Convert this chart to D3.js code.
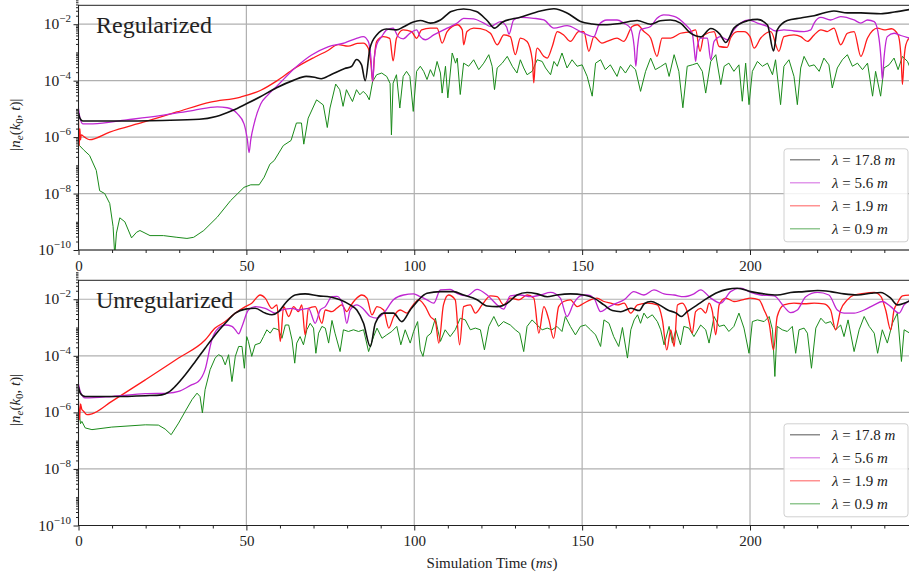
<!DOCTYPE html>
<html>
<head>
<meta charset="utf-8">
<script src="https://cdn.jsdelivr.net/npm/d3@7"></script>
<style>
  body { margin: 0; background: #fff; }
  svg { display: block; }
  text { font-family: "Liberation Serif", "DejaVu Serif", serif; fill: #222; }
  .grid line { stroke: #b0b0b0; stroke-width: 1.2; }
  .axis path, .axis line { stroke: #222; }
</style>
</head>
<body>
<svg id="chart" width="909" height="574"></svg>
<script>
// values are [time in ms, log10 |n_e|]
const xTicks = [0, 50, 100, 150, 200];
const yTickExps = [-10, -8, -6, -4, -2];
const legendLabels = ["17.8", "5.6", "1.9", "0.9"];
const seriesColors = ["#111111", "#c027d2", "#ff1a1a", "#1a8a1a"];

const regBlack = [[0,-5.15],[0.5,-5.35],[1.3,-5.43],[10,-5.43],[25,-5.41],[36,-5.37],[41,-5.27],[46,-5.05],[50,-4.82],[54,-4.58],[59,-4.25],[64,-3.99],[67.8,-3.85],[70.3,-3.88],[72.3,-3.93],[75.3,-3.78],[79.3,-3.57],[81.3,-3.5],[82.8,-3.25],[84.3,-3.44],[85.4,-4.0],[86.8,-2.85],[88.8,-2.38],[91.7,-2.17],[94.7,-2.2],[96.7,-2.1],[99.5,-1.93],[101.8,-1.87],[104.8,-1.96],[107.8,-1.85],[111,-1.55],[114.7,-1.46],[118.5,-1.55],[121.7,-1.87],[123.9,-2.14],[126.2,-1.93],[131.6,-1.75],[137.6,-1.53],[141.6,-1.45],[145.5,-1.6],[149.5,-1.9],[153,-1.99],[156.5,-2.02],[161.4,-1.97],[166.4,-1.87],[170.4,-2.0],[173.3,-1.88],[176.3,-1.85],[179.3,-1.96],[182.1,-2.3],[185.3,-2.45],[188.3,-2.15],[191,-2.35],[192.8,-2.65],[195.2,-2.14],[199.2,-1.88],[202.2,-1.83],[205.2,-2.03],[207,-2.95],[208.1,-2.2],[211.1,-1.87],[215.1,-1.78],[219.1,-1.7],[225,-1.53],[229,-1.6],[233,-1.6],[239,-1.63],[243,-1.57],[247.5,-1.48]];

const regMagenta = [[0,-5.0],[0.4,-5.3],[1.3,-5.53],[4.3,-5.53],[14.3,-5.39],[24.3,-5.24],[34.3,-5.05],[41.3,-4.93],[44.3,-4.96],[47.3,-5.17],[49.3,-5.53],[50.3,-6.1],[50.8,-6.55],[51.3,-6.1],[52.3,-5.53],[54.3,-4.82],[56.3,-4.52],[59.3,-4.17],[64.3,-3.57],[69.3,-3.1],[74.3,-2.8],[79.3,-2.66],[82.8,-2.5],[84.8,-2.44],[86.3,-2.61],[87.1,-3.2],[87.6,-4.03],[88.1,-3.2],[88.8,-2.73],[90.3,-2.44],[91.8,-2.2],[93.7,-2.14],[95.2,-2.44],[96.7,-2.52],[98.7,-2.32],[100.7,-2.2],[101.8,-2.44],[103.3,-2.55],[105.8,-2.38],[109.8,-2.14],[112.8,-1.96],[114.7,-1.79],[117.7,-1.81],[120.7,-1.96],[122.7,-2.08],[125.7,-1.91],[127.5,-2.1],[128.2,-2.35],[129.6,-1.85],[131.6,-1.76],[135.6,-1.79],[138.6,-1.85],[141.6,-2.14],[145.5,-2.05],[149.5,-2.26],[153.5,-2.44],[155,-2.02],[157.4,-1.85],[160.4,-1.85],[162.4,-1.96],[164.4,-2.14],[165.5,-2.8],[166,-3.49],[166.5,-2.8],[167.4,-2.2],[170.4,-2.08],[172.3,-1.79],[174.3,-1.67],[177.4,-1.72],[180.8,-2.02],[182.8,-2.32],[183.4,-2.9],[183.8,-3.32],[184.3,-2.8],[185.3,-2.49],[187.3,-2.49],[188.3,-3.26],[189.3,-2.61],[191.3,-2.44],[193.2,-2.55],[195.2,-2.2],[197.2,-1.96],[199.7,-1.85],[202.2,-1.96],[205.2,-2.08],[207.6,-2.24],[210.1,-2.2],[213.1,-2.24],[216.1,-2.26],[218.1,-2.2],[219.1,-1.96],[221.1,-1.76],[224,-1.85],[227,-1.73],[231,-1.85],[233,-1.96],[235,-1.85],[237,-1.91],[238.4,-2.49],[239,-3.2],[239.4,-3.96],[239.9,-3.2],[240.9,-2.44],[242.9,-2.32],[244.9,-2.4],[247.4,-2.49]];

const regRed = [[0,-5.4],[0.2,-6.3],[0.4,-5.7],[0.6,-6.1],[0.8,-5.92],[1.8,-6.0],[3.3,-6.09],[9.3,-5.82],[19.3,-5.47],[29.3,-5.11],[39.3,-4.76],[48.3,-4.58],[54.3,-4.34],[59.3,-3.99],[64.3,-3.57],[70.3,-3.17],[74.3,-2.93],[77.3,-2.72],[80.3,-2.78],[83,-2.68],[84.8,-2.67],[86.3,-2.85],[87.1,-3.4],[87.6,-4.03],[88.1,-3.2],[88.8,-2.61],[90.8,-2.44],[92.7,-2.5],[93.7,-3.3],[94.7,-2.5],[96.7,-2.2],[99.2,-2.26],[100.7,-2.5],[102.2,-2.2],[104.8,-2.14],[106.8,-2.14],[108.3,-2.67],[109.8,-2.26],[112.8,-2.02],[114.3,-2.2],[114.7,-2.73],[115.7,-2.26],[117.7,-2.14],[119.7,-2.16],[122.7,-2.32],[124.7,-2.73],[126.7,-2.38],[128.6,-2.44],[130.1,-3.08],[131.6,-2.49],[133.6,-2.61],[135.2,-3.3],[135.6,-4.08],[136.1,-3.2],[136.6,-2.85],[138.6,-3.14],[139.6,-3.2],[141.1,-2.79],[142.6,-2.26],[144.5,-2.38],[146.5,-2.61],[149,-2.26],[150.5,-2.26],[152,-2.96],[153.5,-2.44],[155.9,-2.67],[157.4,-2.61],[160.4,-2.49],[162.4,-2.61],[164.9,-2.08],[166.4,-2.02],[168.4,-2.26],[170.4,-2.49],[172.3,-3.14],[173.8,-2.49],[176.4,-2.49],[179.3,-2.32],[182.3,-2.26],[183.8,-2.2],[185.1,-2.96],[186.3,-2.38],[189.3,-2.26],[190.8,-2.79],[193.2,-2.82],[194.2,-2.49],[196.2,-2.26],[198.2,-2.26],[200,-2.44],[201.2,-2.85],[203.2,-2.49],[206.2,-2.26],[208.6,-2.96],[210.1,-2.44],[213.1,-2.38],[215.1,-2.44],[217.1,-2.61],[219.1,-2.38],[221.1,-2.2],[223,-2.26],[225,-2.14],[227,-2.73],[229,-2.32],[231,-2.26],[233,-3.14],[235,-2.49],[238,-2.14],[240,-2.2],[242.1,-2.16],[244.1,-2.38],[245,-3.2],[245.4,-4.14],[245.9,-3.2],[246.4,-2.73],[247.4,-2.49]];

const regGreen = [[0,-6.2],[0.3,-6.3],[1.5,-6.45],[3.3,-6.65],[5.3,-7.18],[6.3,-7.9],[7.8,-8.0],[9.3,-8.35],[10.3,-9.17],[10.8,-10.2],[11.3,-9.4],[12.3,-8.86],[13.8,-9.0],[15.8,-9.57],[17.3,-9.37],[18.3,-9.31],[21.3,-9.49],[25.3,-9.49],[29.3,-9.55],[32.3,-9.59],[34.3,-9.55],[37.3,-9.31],[41.3,-8.84],[45.3,-8.25],[49.3,-7.78],[51.3,-7.69],[53.8,-7.69],[55.3,-7.42],[57,-6.96],[58.3,-6.83],[61,-6.3],[63.3,-6.12],[64.9,-5.5],[66.4,-5.5],[67.1,-6.25],[68.4,-5.33],[70.9,-4.68],[72.9,-4.86],[74.1,-5.66],[74.9,-4.97],[76.6,-4.12],[77.8,-4.32],[78.8,-4.91],[79.8,-4.32],[80.8,-4.56],[81.6,-4.74],[82.8,-4.32],[83.8,-4.5],[84.8,-4.38],[85.8,-4.5],[86.6,-4.68],[87.6,-4.03],[88.8,-3.79],[90.3,-3.73],[91.8,-3.85],[92.8,-4.1],[93.2,-5.92],[93.7,-4.09],[94.7,-3.79],[95.7,-4.97],[96.7,-3.85],[97.7,-3.67],[98.7,-3.85],[99.7,-5.09],[100.7,-3.67],[101.8,-3.49],[102.8,-3.67],[103.8,-3.96],[104.8,-3.61],[105.8,-3.85],[106.8,-3.32],[107.8,-3.73],[108.3,-4.44],[109.3,-3.49],[110,-4.61],[111.3,-3.02],[112.3,-3.38],[112.8,-3.2],[113.7,-4.49],[114.7,-3.38],[116.2,-3.49],[117.7,-3.26],[119.2,-3.61],[120.7,-3.38],[122.2,-3.08],[123.2,-3.49],[123.9,-4.32],[124.7,-3.55],[126.2,-3.38],[127.7,-3.14],[129.2,-3.49],[130.6,-3.73],[131.6,-3.26],[132.6,-3.55],[133.6,-3.79],[135.1,-3.67],[136.6,-3.26],[138.1,-3.32],[139.1,-3.55],[140.6,-3.79],[141.6,-3.32],[142.6,-3.49],[144,-3.02],[145.5,-3.55],[147,-3.26],[148.5,-3.49],[150,-3.44],[151.5,-3.85],[153,-4.55],[154,-3.38],[155.5,-3.26],[156.9,-3.61],[158.4,-3.44],[160.4,-3.85],[161.4,-3.49],[162.9,-3.73],[164.4,-3.44],[165.9,-3.61],[167.4,-4.38],[168.9,-3.67],[170.4,-3.2],[171.8,-3.61],[173.4,-3.5],[174.9,-3.38],[175.9,-3.85],[177.4,-3.08],[178.8,-3.67],[180,-4.96],[181.3,-3.49],[182.8,-3.44],[184.3,-3.38],[185.8,-3.67],[186.8,-4.44],[188.3,-3.32],[189.8,-3.08],[191.3,-4.14],[192.3,-3.49],[193.7,-3.38],[195.2,-3.67],[196.7,-3.44],[197.7,-4.73],[198.7,-3.38],[199.7,-4.85],[200.7,-3.67],[202.2,-3.32],[203.7,-3.49],[205.2,-3.38],[206.7,-3.79],[207.6,-3.26],[209.1,-4.85],[210.1,-3.49],[211.6,-3.26],[213.1,-3.85],[214.1,-4.85],[215.1,-3.55],[216.1,-3.14],[217.6,-3.49],[219.1,-3.44],[220.6,-3.67],[222,-3.2],[223.5,-3.44],[224.5,-4.26],[226,-3.55],[227.5,-3.26],[229,-3.08],[230.5,-3.49],[232,-3.38],[233.5,-3.61],[235,-3.38],[236.5,-4.55],[237.4,-3.67],[238.9,-4.55],[239.9,-3.55],[241.4,-3.44],[242.9,-3.2],[244.1,-3.61],[245.4,-3.14],[246.9,-3.32],[247.5,-3.49]];

const unregBlack = [[0,-5.1],[0.5,-5.32],[2,-5.44],[10,-5.44],[20,-5.41],[24.8,-5.38],[26.8,-5.29],[28.8,-5.08],[31.8,-4.67],[34.8,-4.2],[37.7,-3.73],[40.7,-3.26],[43.7,-2.85],[46.7,-2.49],[49.7,-2.35],[52.6,-2.32],[55.6,-2.49],[57.6,-2.55],[59.6,-2.44],[61.6,-2.14],[64.5,-1.85],[67.5,-1.81],[71.5,-1.88],[75,-1.92],[77.9,-2.02],[80.9,-2.2],[82.9,-2.38],[84.9,-2.85],[86.9,-3.67],[88.4,-2.85],[90.9,-2.49],[93.8,-2.49],[96.3,-2.79],[98.8,-2.38],[101.3,-2.02],[103.8,-1.79],[107.8,-1.73],[111.7,-1.73],[114.7,-1.85],[118.7,-2.02],[121.7,-2.24],[124.7,-2.26],[127.7,-2.14],[130.6,-1.85],[133.6,-1.76],[136.6,-1.81],[139.6,-1.91],[142.5,-1.85],[146.5,-1.81],[150.5,-1.85],[153.5,-1.96],[156.5,-2.2],[159,-2.4],[161.5,-2.44],[164.5,-2.32],[167,-2.4],[168.5,-2.16],[170.5,-2.08],[173,-2.2],[175.5,-2.38],[178,-2.49],[179.5,-2.61],[181.3,-2.44],[184.3,-2.2],[187.3,-1.96],[190.3,-1.76],[193.2,-1.65],[196.2,-1.61],[200.2,-1.73],[204.2,-1.81],[208.1,-1.85],[212.1,-1.76],[216.1,-1.73],[220.1,-1.69],[224,-1.73],[228,-1.81],[232,-1.85],[236,-1.79],[238.9,-1.76],[241.9,-1.96],[243.9,-2.2],[245.9,-2.14],[247.6,-2.05]];

const unregMagenta = [[0,-5.0],[0.5,-5.25],[2,-5.49],[9.9,-5.44],[19.9,-5.34],[26.8,-5.32],[29.8,-5.26],[33.8,-5.02],[35.7,-4.91],[37.7,-4.49],[39.7,-3.44],[41.7,-3.02],[43.7,-2.91],[45.7,-2.96],[46.7,-3.08],[47.7,-3.22],[48.7,-2.96],[50.6,-2.38],[52.6,-2.26],[55.6,-2.32],[58.6,-2.49],[60.6,-2.38],[63.6,-2.32],[65.5,-2.38],[68.5,-2.32],[70.5,-2.85],[72,-2.38],[73.5,-2.26],[75.5,-1.91],[77,-1.9],[78.9,-2.26],[79.9,-2.85],[80.9,-2.38],[82.9,-2.2],[84.9,-2.35],[86.9,-2.61],[88.9,-2.67],[90.9,-2.49],[93.8,-2.02],[96.8,-1.85],[99.8,-1.81],[101.8,-1.91],[103.8,-2.02],[105.8,-2.14],[107.8,-1.67],[110.7,-1.65],[112.7,-1.79],[115.7,-1.88],[118.7,-1.65],[121.7,-1.85],[124.7,-2.2],[126.6,-2.35],[128.6,-1.88],[131.6,-1.85],[134.6,-1.91],[137.6,-1.85],[140.6,-1.76],[143.5,-1.96],[145.5,-2.61],[147.5,-2.14],[149.5,-1.88],[151.5,-1.85],[153.5,-1.96],[155.5,-2.44],[157.5,-2.3],[159.4,-2.18],[162.5,-2.02],[165.4,-1.73],[168.4,-1.85],[171.4,-1.67],[174.4,-1.81],[177.4,-1.85],[180.3,-1.91],[183.3,-1.81],[185.3,-1.67],[188.3,-1.96],[191.3,-2.14],[194.2,-1.73],[197.2,-1.61],[200.2,-1.76],[203.2,-1.85],[207.2,-1.88],[210.1,-2.26],[212.1,-2.47],[214.1,-2.38],[216.6,-1.91],[220.1,-1.76],[223.5,-1.85],[226,-2.38],[228,-2.49],[231,-2.49],[234,-2.38],[237,-2.2],[239.4,-2.08],[241.9,-2.26],[244.4,-2.49],[245.9,-2.2],[247.6,-2.05]];

const unregRed = [[0,-5.6],[0.3,-6.26],[0.6,-5.7],[1,-5.9],[1.5,-5.96],[2.5,-6.08],[4,-6.05],[9.9,-5.61],[19.9,-4.85],[29.8,-4.08],[37.7,-3.44],[40.7,-3.02],[43.7,-2.79],[46.7,-2.49],[49.7,-2.26],[51.6,-2.14],[54.1,-1.85],[55.6,-1.96],[57.6,-2.32],[59.1,-2.2],[60.1,-3.49],[61.1,-2.26],[62.6,-2.61],[64.1,-2.26],[65.5,-2.44],[66.5,-2.2],[67.5,-3.26],[68.5,-2.32],[70.5,-2.26],[72.5,-2.85],[73.5,-2.38],[75.5,-2.44],[76.9,-2.32],[78.4,-2.2],[79.9,-2.44],[80.9,-2.26],[82.4,-2.02],[84.4,-1.85],[85.9,-1.96],[87.4,-2.55],[88.9,-2.26],[90.9,-2.38],[92.4,-3.02],[93.9,-2.61],[95.8,-2.38],[97.8,-2.49],[99.3,-2.26],[101.3,-2.02],[103.3,-2.26],[104.8,-2.61],[106.3,-2.79],[107.3,-3.55],[108.7,-2.2],[110.2,-1.85],[112.2,-2.02],[113.5,-3.61],[114.7,-2.26],[116.7,-2.2],[118.2,-2.49],[120.2,-2.2],[122.7,-1.88],[124.7,-1.91],[126.6,-2.2],[128.6,-1.96],[131.1,-2.02],[133.6,-1.85],[135.6,-1.96],[137.1,-3.2],[138.6,-2.26],[140.1,-2.73],[141.5,-3.38],[143,-2.26],[144.5,-2.08],[146.5,-2.02],[148.5,-2.26],[150.5,-2.14],[152.5,-2.02],[154.4,-1.96],[156.5,-2.08],[158.5,-2.14],[160.5,-2.2],[162.5,-2.14],[164.5,-2.49],[166.5,-2.2],[169.5,-2.14],[172.4,-2.2],[173.9,-2.73],[175.2,-3.79],[176.4,-3.08],[177.4,-3.67],[178.4,-2.2],[179.8,-2.14],[181.3,-2.44],[182.8,-3.2],[183.8,-2.44],[185.3,-2.32],[186.8,-2.49],[187.8,-2.14],[188.8,-2.44],[189.8,-3.26],[190.8,-2.2],[192.8,-1.96],[195.2,-2.08],[197.7,-2.02],[200.2,-1.96],[202.7,-2.02],[204.2,-2.38],[205.7,-2.85],[207,-3.79],[208.1,-2.61],[210.1,-2.2],[213.1,-2.14],[216.1,-2.16],[219.1,-2.14],[222,-2.16],[224,-2.38],[225.5,-3.08],[227,-2.38],[229,-2.02],[231,-1.85],[234,-1.79],[237,-1.76],[239,-1.91],[240.4,-2.38],[241.9,-3.08],[242.9,-2.38],[243.9,-2.14],[245.4,-1.88],[247.6,-1.85]];

const unregGreen = [[0,-6.3],[0.3,-6.1],[0.6,-6.4],[1,-6.32],[2,-6.55],[4,-6.61],[9.9,-6.52],[19.9,-6.44],[23.8,-6.45],[25.8,-6.59],[27.6,-6.79],[29.8,-6.38],[31.8,-5.96],[33.8,-5.55],[35.3,-5.32],[36.2,-5.44],[36.9,-6.02],[37.7,-5.2],[39.2,-4.49],[40.7,-4.08],[41.7,-3.96],[42.7,-4.02],[43.7,-4.32],[44.7,-3.96],[45.7,-4.91],[46.7,-4.02],[47.7,-3.67],[48.7,-3.67],[49.4,-4.44],[50.1,-3.32],[50.6,-3.49],[51.6,-4.02],[52.6,-3.61],[54.1,-3.55],[55.1,-3.32],[56.1,-3.08],[57.1,-3.2],[58.1,-3.02],[59.6,-3.08],[60.6,-3.38],[61.6,-2.91],[62.6,-2.91],[63.6,-3.44],[64.4,-4.26],[65,-3.55],[66,-3.32],[67,-3.61],[68,-3.08],[69,-2.85],[70,-3.02],[70.7,-3.91],[71.5,-3.2],[72.5,-2.96],[73.5,-3.02],[74.5,-3.55],[75.5,-2.75],[76.4,-3.2],[77.9,-3.85],[78.9,-3.08],[80.4,-3.14],[81.9,-3.08],[83.4,-3.14],[84.9,-3.08],[86.4,-3.85],[87.9,-3.32],[88.9,-3.02],[90.4,-3.38],[91.8,-3.26],[93.3,-3.14],[94.8,-2.96],[96,-3.61],[97.3,-3.08],[98.8,-3.55],[99.8,-3.14],[101,-2.79],[101.8,-3.79],[102.6,-4.02],[103.8,-3.32],[105,-3.2],[106.3,-2.67],[107,-3.08],[107.8,-3.49],[109.2,-3.08],[110.7,-3.32],[112.2,-3.08],[113.7,-2.67],[115.2,-2.73],[116.7,-3.08],[118.2,-3.02],[119.7,-3.08],[120.9,-3.79],[122.2,-2.96],[123.7,-2.61],[125.1,-2.96],[126.6,-2.79],[128.6,-2.91],[130.1,-3.08],[131.4,-3.2],[132.6,-3.85],[133.6,-2.96],[135.1,-2.73],[136.6,-2.91],[138.1,-3.08],[139.6,-3.02],[141,-3.08],[142.5,-2.96],[144,-3.14],[145,-2.61],[146.5,-2.96],[148,-3.26],[149.5,-2.96],[151,-2.91],[152.5,-3.08],[154,-3.26],[155.5,-3.67],[156.5,-2.73],[158,-2.85],[159.4,-3.32],[160.9,-3.67],[162,-3.0],[163.5,-4.08],[164.5,-3.08],[165.5,-2.73],[166.5,-2.55],[167.4,-2.85],[168.4,-2.49],[169.4,-2.67],[170.9,-2.55],[172.4,-2.79],[173.4,-3.08],[174.4,-3.61],[175.9,-2.96],[176.9,-3.55],[177.9,-3.08],[179.3,-3.61],[180.3,-2.96],[181.8,-3.02],[183.3,-3.32],[185.3,-2.91],[186.8,-3.08],[187.8,-3.55],[189.3,-2.61],[190.8,-2.96],[192.3,-2.91],[193.7,-3.14],[195.2,-2.96],[196.7,-2.49],[198.2,-3.02],[199.7,-3.91],[200.7,-2.79],[202.2,-2.73],[204.2,-2.79],[205.7,-2.61],[206.7,-3.08],[207.4,-4.73],[208.1,-2.96],[209.6,-3.08],[211.1,-3.14],[212.6,-2.96],[213.6,-3.91],[214.6,-3.08],[216.1,-3.02],[217.1,-3.2],[218.3,-4.44],[219.6,-3.02],[221.1,-2.67],[222.5,-2.85],[224,-2.79],[225.5,-3.08],[227,-2.91],[228,-3.32],[229.2,-2.73],[231,-3.85],[232.5,-3.08],[234,-2.61],[235.5,-2.96],[237,-3.2],[238,-3.91],[239.4,-3.08],[240.9,-3.55],[242.4,-2.85],[243.9,-2.49],[245.1,-4.2],[245.9,-3.08],[247.6,-3.2]];

const svg = d3.select("#chart");

const x = d3.scaleLinear().domain([0, 247.5]).range([78.5, 909.5]);

const panels = [
  {name: "Regularized", top: 5.3, bottom: 250, series: [regBlack, regMagenta, regRed, regGreen]},
  {name: "Unregularized", top: 280.3, bottom: 525.5, series: [unregBlack, unregMagenta, unregRed, unregGreen]}
];

const minorY = [];
for (let k = -10; k < -1; k++) {
  for (let s = 1; s < 10; s++) {
    const v = s * Math.pow(10, k);
    if (!(s === 1 && k % 2 === 0)) minorY.push(v);
  }
}
const minorX = d3.range(10, 250, 10).filter(d => d % 50 !== 0);

panels.forEach((p, pi) => {
  const y = d3.scaleLog().domain([1e-10, Math.pow(10, -1.33)]).range([p.bottom, p.top]);
  const g = svg.append("g");

  // grid
  const grid = g.append("g").attr("class", "grid");
  grid.selectAll(".gx").data(xTicks).enter().append("line")
      .attr("x1", d => x(d)).attr("x2", d => x(d))
      .attr("y1", p.top).attr("y2", p.bottom);
  grid.selectAll(".gy").data(yTickExps).enter().append("line")
      .attr("x1", x.range()[0]).attr("x2", x.range()[1])
      .attr("y1", d => y(Math.pow(10, d))).attr("y2", d => y(Math.pow(10, d)));

  // lines
  const clipId = "clip" + pi;
  svg.append("clipPath").attr("id", clipId).append("rect")
      .attr("x", x.range()[0]).attr("y", p.top)
      .attr("width", x.range()[1] - x.range()[0]).attr("height", p.bottom - p.top);

  const line = d3.line()
      .x(d => x(d[0]))
      .y(d => y(Math.pow(10, d[1])));

  const widths = [1.6, 1.3, 1.3, 1.0];
  const plot = g.append("g").attr("clip-path", `url(#${clipId})`);
  // draw green first so it sits beneath
  [3, 2, 1, 0].forEach(i => {
    plot.append("path")
        .datum(p.series[i])
        .attr("fill", "none")
        .attr("stroke", seriesColors[i])
        .attr("stroke-width", widths[i])
        .attr("stroke-linejoin", "round")
        .attr("d", line.curve(i === 3 ? d3.curveLinear : d3.curveMonotoneX));
  });

  // axes
  const xAxis = g.append("g").attr("class", "axis")
      .attr("transform", `translate(0,${p.bottom})`)
      .call(d3.axisBottom(x).tickValues(xTicks).tickSize(5).tickPadding(5).tickFormat(d3.format("d")));
  xAxis.select(".domain").remove();
  xAxis.selectAll("text").style("font-size", "15px").attr("fill", "#222");
  g.append("g").attr("class", "axis")
      .attr("transform", `translate(0,${p.bottom})`)
      .call(d3.axisBottom(x).tickValues(minorX).tickSize(3).tickFormat(""))
      .select(".domain").remove();

  const yAxis = g.append("g").attr("class", "axis")
      .attr("transform", `translate(${x.range()[0]},0)`)
      .call(d3.axisLeft(y).tickValues(yTickExps.map(e => Math.pow(10, e))).tickSize(5).tickFormat(""));
  yAxis.select(".domain").remove();
  g.append("g").attr("class", "axis")
      .attr("transform", `translate(${x.range()[0]},0)`)
      .call(d3.axisLeft(y).tickValues(minorY).tickSize(2.5).tickFormat(""))
      .select(".domain").remove();

  const yl = g.selectAll(".ylab").data(yTickExps).enter().append("text")
      .attr("x", 71).attr("y", d => y(Math.pow(10, d)) + 5)
      .attr("text-anchor", "end")
      .style("font-size", "15.5px");
  yl.append("tspan").text("10");
  yl.append("tspan").attr("dy", -7).style("font-size", "11px").text(d => "\u2212" + Math.abs(d));

  // frame
  g.append("rect")
      .attr("x", x.range()[0]).attr("y", p.top)
      .attr("width", x.range()[1] - x.range()[0]).attr("height", p.bottom - p.top)
      .attr("fill", "none").attr("stroke", "#222").attr("stroke-width", 1);

  // panel title
  g.append("text")
      .attr("x", 96).attr("y", p.top + 28)
      .style("font-size", "24px").attr("fill", "#111")
      .text(p.name);

  // y label
  const yc = (p.top + p.bottom) / 2 - 3;
  const ylab = g.append("text")
      .attr("transform", `translate(20,${yc}) rotate(-90)`)
      .attr("text-anchor", "middle")
      .style("font-size", "15px").attr("fill", "#444");
  ylab.append("tspan").text("|");
  ylab.append("tspan").style("font-style", "italic").text("n");
  ylab.append("tspan").attr("dy", 3).style("font-size", "11px").style("font-style", "italic").text("e");
  ylab.append("tspan").attr("dy", -3).text("(");
  ylab.append("tspan").style("font-style", "italic").text("k");
  ylab.append("tspan").attr("dy", 3).style("font-size", "11px").text("0");
  ylab.append("tspan").attr("dy", -3).text(", ");
  ylab.append("tspan").style("font-style", "italic").text("t");
  ylab.append("tspan").text(")|");

  // legend
  const lg = g.append("g").attr("transform", `translate(784,${p.top + 143.5})`);
  lg.append("rect")
      .attr("width", 124).attr("height", 93).attr("rx", 3)
      .attr("fill", "#fff").attr("fill-opacity", 0.85)
      .attr("stroke", "#d0d0d0");
  legendLabels.forEach((lab, i) => {
    const ry = 11 + i * 23;
    lg.append("line")
        .attr("x1", 6).attr("x2", 36).attr("y1", ry).attr("y2", ry)
        .attr("stroke", seriesColors[i]).attr("stroke-width", 1.2).attr("stroke-opacity", 0.6);
    const t = lg.append("text").attr("x", 48).attr("y", ry + 5).style("font-size", "15px");
    t.append("tspan").style("font-style", "italic").text("\u03bb");
    t.append("tspan").text(" = " + lab + " ");
    t.append("tspan").style("font-style", "italic").text("m");
  });
});

// x label
const xl = svg.append("text")
    .attr("x", (x.range()[0] + x.range()[1]) / 2 - 2).attr("y", 568)
    .attr("text-anchor", "middle")
    .style("font-size", "15px");
xl.append("tspan").text("Simulation Time (");
xl.append("tspan").style("font-style", "italic").text("ms");
xl.append("tspan").text(")");
</script>
</body>
</html>
